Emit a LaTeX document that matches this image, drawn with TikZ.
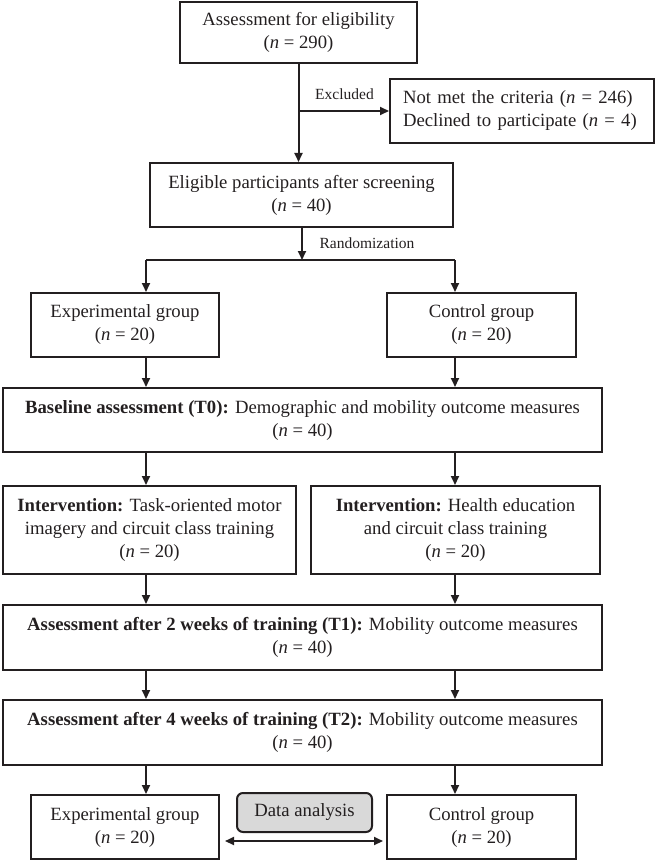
\documentclass[tikz,border=0pt]{standalone}
\usepackage{fontspec}
\setmainfont{Liberation Serif}
\usetikzlibrary{arrows.meta}
\definecolor{ink}{HTML}{231F20}
\definecolor{boxgray}{HTML}{D9D9D9}
\begin{document}
\begin{tikzpicture}[x=1pt,y=-1pt,
  box/.style={draw=ink,line width=2pt,text=ink,align=center,inner sep=2pt,
    font=\fontsize{18.7pt}{23pt}\selectfont},
  lbl/.style={text=ink,inner sep=0pt,font=\fontsize{15.5pt}{18pt}\selectfont},
  conn/.style={draw=ink,line width=2pt},
  arr/.style={conn,-{Triangle[length=9pt,width=8pt]}}
]
\useasboundingbox (0,0) rectangle (655,861);

% boxes
\node[box,minimum width=237pt,minimum height=61pt] (b1) at (298.5,32.5)
  {Assessment for eligibility\\(\textit{n} = 290)};
\node[box,anchor=west,text width=238pt,align=left,inner xsep=13pt,inner ysep=0pt,minimum height=64pt] (excl) at (389,111)
  {Not met the criteria (\textit{n} = 246)\\Declined to participate (\textit{n} = 4)};
\node[box,minimum width=303pt,minimum height=64pt] (b2) at (301.5,195)
  {Eligible participants after screening\\(\textit{n} = 40)};
\node[box,minimum width=188pt,minimum height=64pt] (exp1) at (125,325)
  {Experimental group\\(\textit{n} = 20)};
\node[box,minimum width=189pt,minimum height=64pt] (con1) at (481.5,325)
  {Control group\\(\textit{n} = 20)};
\node[box,minimum width=599pt,minimum height=64pt] (base) at (302.5,420)
  {\textbf{Baseline assessment (T0):} Demographic and mobility outcome measures\\(\textit{n} = 40)};
\node[box,minimum width=293pt,minimum height=88pt] (intL) at (149.5,530)
  {\textbf{Intervention:} Task-oriented motor\\imagery and circuit class training\\(\textit{n} = 20)};
\node[box,minimum width=289pt,minimum height=88pt] (intR) at (455.5,530)
  {\textbf{Intervention:} Health education\\and circuit class training\\(\textit{n} = 20)};
\node[box,minimum width=599pt,minimum height=65pt] (t1) at (302.5,637.5)
  {\textbf{Assessment after 2 weeks of training (T1):} Mobility outcome measures\\(\textit{n} = 40)};
\node[box,minimum width=599pt,minimum height=65pt] (t2) at (302.5,732.5)
  {\textbf{Assessment after 4 weeks of training (T2):} Mobility outcome measures\\(\textit{n} = 40)};
\node[box,minimum width=188pt,minimum height=64pt] (exp2) at (125,827)
  {Experimental group\\(\textit{n} = 20)};
\node[box,minimum width=189pt,minimum height=64pt] (con2) at (481.5,827)
  {Control group\\(\textit{n} = 20)};
\node[box,fill=boxgray,rounded corners=6pt,minimum width=135pt,minimum height=39pt] (data) at (304.5,812.5)
  {Data analysis};

% coordinates
\coordinate (ex) at (300,111);
\coordinate (split) at (302,260);
\coordinate (sl) at (146,260);
\coordinate (sr) at (455,260);

% connectors
\draw[arr] (b1.south) -- (b1.south |- b2.north);
\draw[arr] (ex) -- (excl.west) node[lbl,midway,above=10pt] {Excluded};
\draw[arr] (b2.south -| split) -- (split);
\node[lbl] (rand) at (367,243) {Randomization};
\draw[conn] (sl) -- (sr);
\draw[arr] (sl) -- (sl |- exp1.north);
\draw[arr] (sr) -- (sr |- con1.north);

\draw[arr] (exp1.south -| sl) -- (base.north -| sl);
\draw[arr] (con1.south -| sr) -- (base.north -| sr);
\draw[arr] (base.south -| sl) -- (intL.north -| sl);
\draw[arr] (base.south -| sr) -- (intR.north -| sr);
\draw[arr] (intL.south -| sl) -- (t1.north -| sl);
\draw[arr] (intR.south -| sr) -- (t1.north -| sr);
\draw[arr] (t1.south -| sl) -- (t2.north -| sl);
\draw[arr] (t1.south -| sr) -- (t2.north -| sr);
\draw[arr] (t2.south -| sl) -- (exp2.north -| sl);
\draw[arr] (t2.south -| sr) -- (con2.north -| sr);

\draw[conn,{Triangle[length=9pt,width=8pt]}-{Triangle[length=9pt,width=8pt]},shorten <=5pt,shorten >=3pt]
  ([yshift=-14pt]exp2.east) -- ([yshift=-14pt]con2.west);
\end{tikzpicture}
\end{document}
